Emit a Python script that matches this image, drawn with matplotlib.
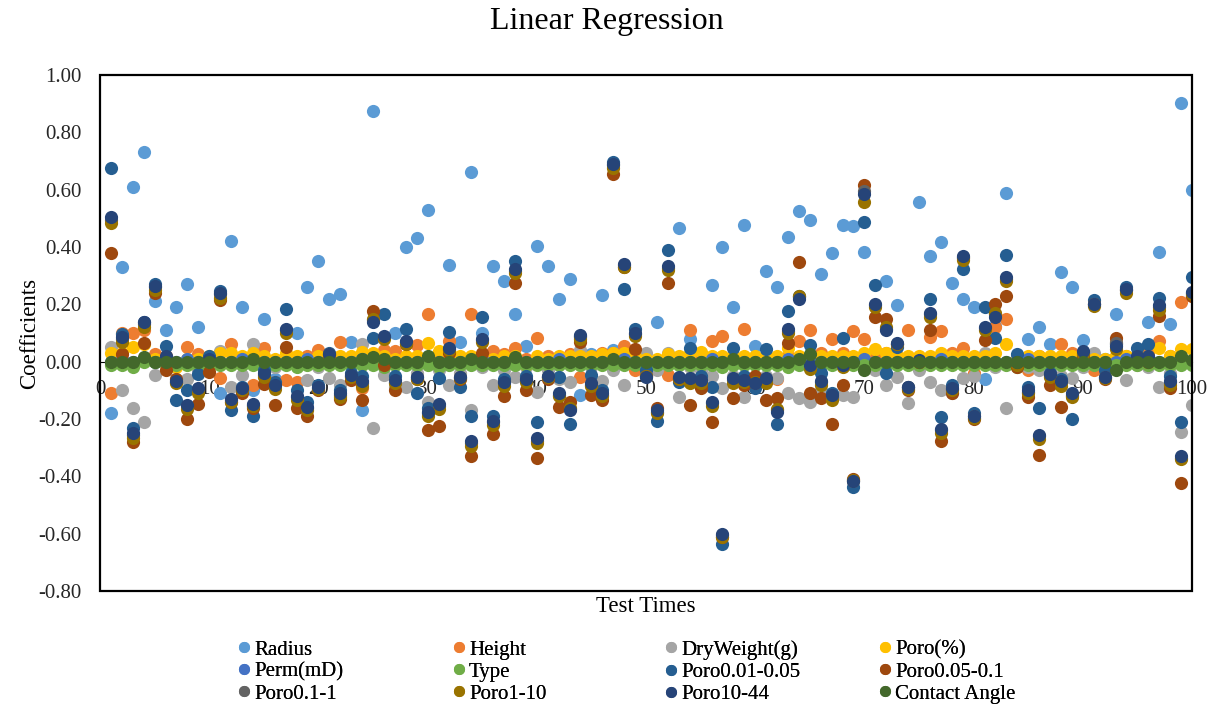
import matplotlib
matplotlib.use("Agg")
import matplotlib.pyplot as plt
from matplotlib.patches import Rectangle
from matplotlib.lines import Line2D
from matplotlib.ticker import FuncFormatter
import numpy as np

plt.rcParams['font.family'] = ['Liberation Serif', 'DejaVu Serif']

test_times = list(range(1, 101))

radius = [-0.18, 0.33, 0.61, 0.73, 0.21, 0.11, 0.19, 0.27, 0.12, 0.01,
          -0.11, 0.42, 0.19, -0.10, 0.15, -0.06, 0.11, 0.10, 0.26, 0.35,
          0.22, 0.235, 0.07, -0.168, 0.876, 0.02, 0.10, 0.40, 0.433, 0.53,
          0.02, 0.336, 0.07, 0.66, 0.10, 0.332, 0.28, 0.167, 0.054, 0.403,
          0.332, 0.22, 0.29, -0.117, 0.025, 0.232, 0.04, 0.02, 0.02, 0.01,
          0.137, 0.01, 0.465, 0.078, 0.01, 0.267, 0.40, 0.19, 0.476, 0.054,
          0.318, 0.26, 0.435, 0.524, 0.495, 0.305, 0.38, 0.476, 0.472, 0.383,
          0.02, 0.283, 0.199, 0.01, 0.557, 0.368, 0.417, 0.273, 0.22, 0.19,
          -0.06, 0.125, 0.59, 0.02, 0.078, 0.12, 0.06, 0.314, 0.26, 0.074,
          0.02, 0.01, 0.167, 0.01, 0.02, 0.137, 0.383, 0.13, 0.903, 0.60]

height = [-0.11, 0.10, 0.10, 0.11, 0.025, 0.02, -0.01, 0.05, 0.025, -0.02,
          -0.058, 0.063, 0.01, -0.08, 0.046, -0.07, -0.064, -0.07, 0.02, 0.04,
          0.01, 0.07, 0.01, -0.093, 0.02, 0.04, 0.037, 0.01, 0.058, 0.167,
          0.01, 0.072, 0.01, 0.167, 0.02, 0.037, 0.025, 0.048, 0.01, 0.084,
          0.02, 0.01, 0.025, -0.055, 0.01, 0.03, 0.03, 0.054, -0.03, -0.03,
          0.00, -0.046, 0.01, 0.11, 0.01, 0.072, 0.09, 0.02, 0.113, 0.01,
          0.02, -0.06, 0.02, 0.072, 0.11, 0.03, 0.08, 0.03, 0.107, 0.078,
          0.02, 0.03, 0.02, 0.11, 0.01, 0.085, 0.107, 0.03, 0.048, -0.04,
          0.02, 0.12, 0.15, -0.01, -0.03, 0.02, -0.02, 0.063, 0.03, 0.01,
          -0.03, -0.02, 0.02, 0.02, 0.01, 0.03, 0.072, 0.02, 0.208, 0.23]

dry_weight = [0.05, -0.10, -0.16, -0.21, -0.045, 0.00, -0.06, -0.06, -0.03, -0.02,
              0.037, -0.09, -0.046, 0.063, -0.01, -0.02, 0.01, -0.01, -0.064, -0.02,
              -0.058, -0.08, 0.00, 0.063, -0.23, -0.046, -0.087, -0.087, -0.04, -0.14,
              -0.03, -0.08, -0.04, -0.17, -0.02, -0.08, -0.03, -0.055, -0.02, -0.105,
              -0.03, -0.06, -0.07, 0.04, -0.02, -0.067, -0.028, -0.08, 0.03, 0.03,
              -0.03, 0.03, -0.123, -0.02, -0.03, -0.05, -0.093, -0.05, -0.123, -0.06,
              -0.05, -0.058, -0.11, -0.126, -0.14, -0.10, -0.12, -0.117, -0.123, 0.00,
              -0.03, -0.08, -0.052, -0.143, -0.03, -0.07, -0.10, -0.11, -0.058, -0.05,
              0.03, -0.02, -0.16, 0.01, -0.02, -0.03, -0.03, -0.05, -0.058, -0.02,
              0.03, -0.02, 0.07, -0.064, -0.01, -0.02, -0.087, -0.04, -0.247, -0.152]

poro_pct = [0.03, 0.03, 0.05, 0.06, 0.01, 0.01, -0.02, 0.01, 0.01, 0.02,
            0.03, 0.03, 0.02, 0.03, 0.02, 0.01, 0.03, 0.02, 0.01, 0.02,
            0.02, 0.02, 0.02, 0.034, 0.03, 0.02, 0.01, 0.02, 0.02, 0.066,
            0.037, 0.02, 0.02, 0.02, 0.02, 0.01, 0.02, 0.02, -0.01, 0.02,
            0.01, 0.02, 0.02, 0.02, 0.02, 0.025, 0.03, 0.03, 0.02, 0.01,
            0.01, 0.027, 0.02, 0.03, 0.034, 0.02, 0.02, 0.02, 0.02, 0.02,
            0.02, 0.02, 0.046, 0.02, 0.02, 0.02, 0.02, 0.02, 0.02, 0.03,
            0.043, 0.03, 0.02, 0.02, 0.02, 0.02, 0.03, 0.02, 0.02, 0.02,
            0.02, 0.03, 0.063, 0.01, 0.02, 0.02, 0.02, 0.02, 0.02, 0.01,
            0.01, 0.01, 0.02, 0.02, 0.02, 0.02, 0.048, 0.02, 0.045, 0.043]

perm = [0.00, 0.01, 0.00, 0.01, 0.00, 0.00, 0.00, 0.01, 0.00, 0.00,
        0.00, 0.00, 0.01, 0.00, 0.00, 0.00, 0.00, 0.00, 0.01, 0.00,
        0.00, 0.00, 0.00, 0.01, 0.00, 0.00, 0.00, 0.00, 0.00, 0.01,
        0.00, 0.00, 0.00, 0.00, 0.01, 0.00, 0.00, 0.00, 0.00, 0.00,
        0.00, 0.01, 0.00, 0.00, 0.00, 0.00, 0.00, 0.01, 0.00, 0.00,
        0.00, 0.00, 0.00, 0.00, 0.00, 0.01, 0.00, 0.00, 0.00, 0.00,
        0.00, 0.00, 0.01, 0.00, 0.00, 0.00, 0.00, 0.00, 0.00, 0.01,
        0.00, 0.00, 0.00, 0.00, 0.00, 0.00, 0.01, 0.00, 0.00, 0.00,
        0.00, 0.00, 0.00, 0.00, 0.01, 0.00, 0.00, 0.00, 0.00, 0.00,
        0.00, 0.00, 0.00, 0.01, 0.00, 0.00, 0.00, 0.00, 0.00, 0.00]

type_coef = [-0.01, -0.01, -0.02, 0.00, 0.00, -0.01, -0.01, -0.01, -0.01, -0.01,
             -0.01, -0.01, -0.01, -0.01, -0.01, -0.01, -0.01, -0.02, -0.01, -0.01,
             -0.01, -0.01, -0.01, -0.01, -0.01, -0.02, -0.01, -0.01, -0.01, -0.01,
             -0.02, -0.01, -0.01, -0.01, -0.01, -0.01, -0.01, -0.01, -0.01, -0.01,
             -0.01, -0.01, -0.01, -0.01, -0.01, -0.01, -0.01, -0.01, -0.01, -0.01,
             -0.01, -0.01, -0.01, -0.01, -0.01, -0.01, -0.02, -0.01, -0.01, -0.01,
             -0.01, -0.01, -0.02, -0.01, -0.01, -0.01, -0.01, -0.01, -0.01, -0.01,
             -0.01, -0.01, -0.01, -0.01, -0.01, -0.01, -0.01, -0.01, -0.01, -0.01,
             -0.01, -0.01, -0.01, -0.02, -0.01, -0.01, -0.01, -0.01, -0.01, -0.01,
             -0.01, -0.01, -0.01, -0.01, -0.01, -0.01, -0.01, -0.01, -0.01, -0.01]

poro_001_005 = [0.675, 0.095, -0.23, 0.14, 0.27, 0.055, -0.135, -0.10, -0.044, 0.02,
                0.245, -0.17, -0.09, -0.19, -0.03, -0.07, 0.185, -0.10, -0.14, -0.08,
                0.03, -0.10, -0.04, -0.05, 0.084, 0.167, -0.05, 0.113, -0.11, -0.16,
                -0.058, 0.104, -0.087, -0.188, 0.157, -0.19, -0.06, 0.35, -0.05, -0.21,
                -0.052, -0.052, -0.217, 0.09, -0.046, -0.10, 0.695, 0.255, 0.113, -0.028,
                -0.206, 0.39, -0.07, 0.046, -0.05, -0.087, -0.637, 0.048, -0.05, -0.093,
                0.043, -0.217, 0.178, 0.23, 0.058, -0.04, -0.11, 0.084, -0.436, 0.486,
                0.267, -0.04, 0.05, -0.09, 0.00, 0.22, -0.194, -0.08, 0.323, -0.18,
                0.19, 0.084, 0.373, 0.025, -0.09, -0.16, -0.04, -0.06, -0.20, 0.02,
                0.214, -0.03, 0.06, 0.26, 0.048, 0.06, 0.223, -0.05, -0.21, 0.294]

poro_005_01 = [0.38, 0.025, -0.28, 0.065, 0.24, -0.03, -0.06, -0.20, -0.147, -0.035,
               0.215, -0.14, -0.11, -0.16, -0.078, -0.15, 0.05, -0.16, -0.19, -0.10,
               0.02, -0.13, -0.064, -0.135, 0.176, -0.01, -0.10, 0.06, -0.06, -0.238,
               -0.223, 0.03, -0.06, -0.33, 0.03, -0.253, -0.12, 0.275, -0.10, -0.336,
               -0.06, -0.158, -0.14, 0.07, -0.115, -0.135, 0.654, 0.33, 0.043, -0.05,
               -0.16, 0.275, -0.06, -0.152, -0.093, -0.21, -0.61, -0.126, -0.08, -0.05,
               -0.135, -0.126, 0.066, 0.346, -0.11, -0.126, -0.217, -0.08, -0.41, 0.616,
               0.157, 0.149, 0.06, -0.10, 0.00, 0.11, -0.277, -0.11, 0.36, -0.20,
               0.074, 0.20, 0.228, -0.02, -0.123, -0.327, -0.08, -0.158, -0.12, 0.02,
               0.20, -0.06, 0.084, 0.25, 0.01, 0.00, 0.16, -0.093, -0.424, 0.228]

poro_01_1 = [0.495, 0.08, -0.255, 0.13, 0.26, 0.015, -0.07, -0.155, -0.10, 0.005,
             0.235, -0.135, -0.095, -0.15, -0.045, -0.085, 0.11, -0.125, -0.16, -0.092,
             0.025, -0.115, -0.05, -0.075, 0.145, 0.085, -0.07, 0.068, -0.055, -0.18,
             -0.155, 0.045, -0.055, -0.285, 0.075, -0.21, -0.075, 0.318, -0.065, -0.275,
             -0.052, -0.115, -0.165, 0.085, -0.08, -0.115, 0.685, 0.338, 0.095, -0.05,
             -0.175, 0.328, -0.058, -0.065, -0.07, -0.145, -0.605, -0.065, -0.068, -0.075,
             -0.065, -0.17, 0.108, 0.225, -0.015, -0.072, -0.125, -0.015, -0.415, 0.595,
             0.198, 0.115, 0.063, -0.09, 0.003, 0.165, -0.24, -0.095, 0.365, -0.19,
             0.118, 0.165, 0.29, -0.005, -0.105, -0.26, -0.05, -0.075, -0.115, 0.03,
             0.20, -0.055, 0.065, 0.25, 0.018, 0.015, 0.19, -0.072, -0.335, 0.24]

poro_1_10 = [0.485, 0.07, -0.265, 0.12, 0.25, 0.005, -0.075, -0.165, -0.11, 0.00,
             0.222, -0.14, -0.10, -0.155, -0.055, -0.095, 0.10, -0.135, -0.17, -0.095,
             0.022, -0.125, -0.055, -0.085, 0.15, 0.08, -0.075, 0.062, -0.06, -0.19,
             -0.165, 0.04, -0.058, -0.295, 0.07, -0.22, -0.085, 0.31, -0.07, -0.285,
             -0.055, -0.12, -0.16, 0.078, -0.085, -0.12, 0.675, 0.33, 0.09, -0.05,
             -0.18, 0.32, -0.06, -0.075, -0.075, -0.155, -0.61, -0.075, -0.07, -0.07,
             -0.075, -0.165, 0.10, 0.23, -0.025, -0.08, -0.135, -0.02, -0.412, 0.557,
             0.19, 0.12, 0.062, -0.095, 0.00, 0.155, -0.25, -0.10, 0.355, -0.195,
             0.11, 0.17, 0.28, -0.01, -0.11, -0.27, -0.055, -0.085, -0.125, 0.025,
             0.195, -0.058, 0.045, 0.238, 0.015, 0.01, 0.18, -0.08, -0.34, 0.235]

poro_10_44 = [0.505, 0.085, -0.25, 0.137, 0.265, 0.02, -0.067, -0.15, -0.093, 0.01,
              0.24, -0.13, -0.093, -0.147, -0.04, -0.08, 0.115, -0.12, -0.158, -0.09,
              0.027, -0.11, -0.046, -0.067, 0.14, 0.09, -0.064, 0.072, -0.052, -0.176,
              -0.147, 0.048, -0.052, -0.277, 0.078, -0.206, -0.07, 0.323, -0.06, -0.268,
              -0.05, -0.11, -0.17, 0.093, -0.076, -0.11, 0.69, 0.342, 0.10, -0.052,
              -0.17, 0.332, -0.055, -0.058, -0.064, -0.14, -0.60, -0.058, -0.064, -0.076,
              -0.058, -0.176, 0.113, 0.22, -0.01, -0.067, -0.117, -0.01, -0.418, 0.586,
              0.202, 0.11, 0.066, -0.087, 0.005, 0.169, -0.235, -0.093, 0.37, -0.188,
              0.122, 0.157, 0.297, 0.00, -0.10, -0.256, -0.044, -0.067, -0.11, 0.037,
              0.202, -0.052, 0.054, 0.255, 0.02, 0.02, 0.196, -0.067, -0.33, 0.243]

contact_angle = [0.00, 0.00, 0.00, 0.017, 0.00, 0.00, 0.00, 0.00, 0.00, 0.00,
                 0.00, 0.00, 0.00, 0.01, 0.00, 0.00, 0.00, 0.00, 0.00, 0.00,
                 0.00, 0.00, 0.00, 0.01, 0.015, 0.01, 0.00, 0.00, 0.00, 0.02,
                 0.00, 0.00, 0.00, 0.01, 0.00, 0.00, 0.00, 0.015, 0.00, 0.00,
                 0.00, 0.00, 0.00, 0.00, 0.00, 0.00, 0.01, 0.00, 0.00, 0.00,
                 0.00, 0.00, 0.00, 0.00, 0.00, 0.00, 0.00, 0.01, 0.00, 0.00,
                 0.00, 0.00, 0.00, 0.01, 0.025, 0.00, 0.00, 0.00, 0.00, -0.028,
                 0.00, 0.00, 0.00, 0.00, 0.00, 0.00, 0.00, 0.00, 0.00, 0.00,
                 0.00, 0.00, 0.00, 0.00, 0.00, 0.00, 0.00, 0.00, 0.00, 0.00,
                 0.00, 0.00, -0.028, 0.00, 0.00, 0.00, 0.00, 0.00, 0.019, 0.007]

series_names = ["Radius", "Height", "DryWeight(g)", "Poro(%)", "Perm(mD)", "Type",
                "Poro0.01-0.05", "Poro0.05-0.1", "Poro0.1-1", "Poro1-10", "Poro10-44",
                "Contact Angle"]
series_values = [radius, height, dry_weight, poro_pct, perm, type_coef,
                 poro_001_005, poro_005_01, poro_01_1, poro_1_10, poro_10_44, contact_angle]
series_colors = ["#5B9BD5", "#ED7D31", "#A5A5A5", "#FFC000", "#4472C4", "#70AD47",
                 "#255E91", "#9E480E", "#636363", "#997300", "#264478", "#43682B"]

y_ticks = [-0.8, -0.6, -0.4, -0.2, 0.0, 0.2, 0.4, 0.6, 0.8, 1.0]
x_ticks = [0, 10, 20, 30, 40, 50, 60, 70, 80, 90, 100]

W, H = 1213, 710
fig = plt.figure(figsize=(W / 100, H / 100), dpi=100)
ax_left, ax_right, ax_top, ax_bottom = 100, 1192, 75, 591
ax = fig.add_axes([ax_left / W, 1 - ax_bottom / H, (ax_right - ax_left) / W, (ax_bottom - ax_top) / H])

for i, (name, vals, col) in enumerate(zip(series_names, series_values, series_colors)):
    ax.scatter(test_times, vals, s=90, color=col, linewidths=0, zorder=3 + i, label=name)

ax.set_xlim(0, 100)
ax.set_ylim(-0.8, 1.0)
ax.set_yticks(y_ticks)
ax.yaxis.set_major_formatter(FuncFormatter(lambda v, p: f"{round(v, 2) + 0.0:.2f}"))
ax.set_xticks(x_ticks)

for s in ['top', 'right', 'left']:
    ax.spines[s].set_visible(False)
ax.spines['bottom'].set_position(('data', 0))
ax.spines['bottom'].set_color('#000000')
ax.spines['bottom'].set_linewidth(0.8)
ax.spines['bottom'].set_zorder(2)
ax.add_patch(Rectangle((0, 0), 1, 1, transform=ax.transAxes, fill=False,
                       edgecolor='black', linewidth=1.6, zorder=20, clip_on=False))

ax.tick_params(axis='x', length=0, pad=13, labelsize=15)
ax.tick_params(axis='y', length=0, pad=13, labelsize=15)
for lbl in ax.get_xticklabels() + ax.get_yticklabels():
    lbl.set_color('#262626')

fig.text(606.5 / W, 1 - 22 / H, "Linear Regression", ha='center', va='center', fontsize=23)
fig.text(30 / W, 1 - 333 / H, "Coefficients", ha='center', va='center', rotation=90, fontsize=16.5)
fig.text(646 / W, 1 - 607 / H, "Test Times", ha='center', va='center', fontsize=16.5)

col_x = [244, 459, 671, 885]
row_top = 640
for c in range(4):
    handles = []
    labels = []
    for r in range(3):
        k = r * 4 + c
        handles.append(Line2D([], [], linestyle='none', marker='o', markersize=8,
                              markerfacecolor=series_colors[k], markeredgewidth=0))
        labels.append(series_names[k])
    fs = 15
    em = fs * 100 / 72
    hl = 0.55
    leg = fig.legend(handles, labels, loc='upper left',
                     bbox_to_anchor=((col_x[c] - hl * em / 2) / W, 1 - row_top / H),
                     frameon=False, fontsize=fs, handlelength=hl, handletextpad=0.2,
                     borderpad=0, borderaxespad=0, labelspacing=0.12)
    fig.add_artist(leg)

fig.savefig("out.png", dpi=100)
